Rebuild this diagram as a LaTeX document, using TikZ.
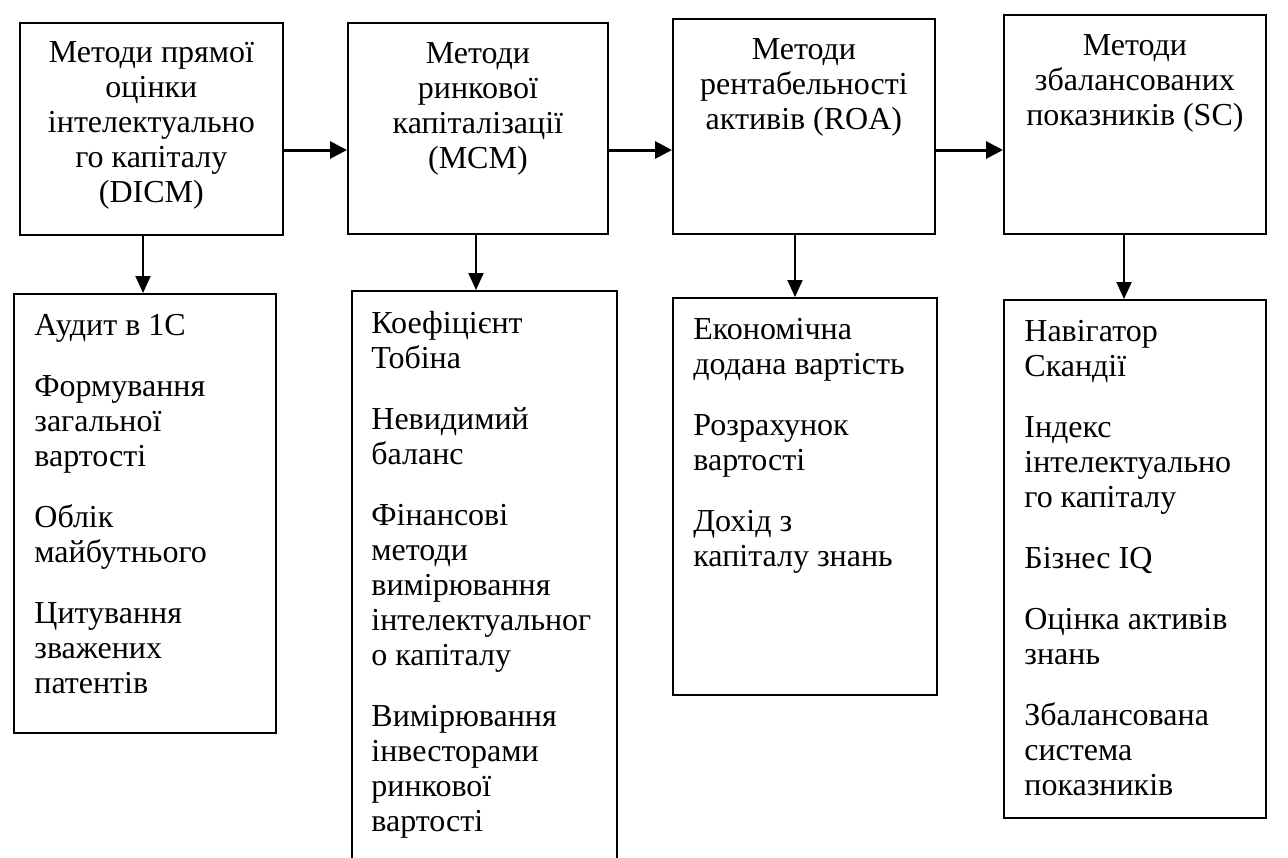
\documentclass[tikz,border=0pt]{standalone}
\usepackage{fontspec}
\setmainfont{Liberation Serif}
\usetikzlibrary{arrows.meta}

\begin{document}
\begin{tikzpicture}[x=0.5pt, y=-0.5pt,
  box/.style={draw, line width=0.9pt, inner sep=0pt, anchor=north west},
  head/.style={anchor=north, align=center, inner sep=0pt, font=\fontsize{16}{17.5}\selectfont},
  list/.style={anchor=north west, align=left, inner sep=0pt, font=\fontsize{16}{17.5}\selectfont},
  harrow/.style={line width=1.5pt, -{Triangle[length=8.5pt,width=8.5pt]}},
  varrow/.style={line width=1pt, -{Triangle[length=8.5pt,width=7.5pt]}}]

  %–– Lienzo ––
  \fill[white, use as bounding box] (0,0) rectangle (1288,857);

  %–– Cajas (nombre/x/y/ancho/alto en px) ––
  \foreach \n/\x/\y/\w/\h in {
    t1/19/22/263/212,
    t2/347/22/260/211,
    t3/672/18/262/215,
    t4/1003/14/262/219,
    b1/13/293/262/439,
    b2/351/290/265/600,
    b3/672/297/264/397,
    b4/1003/299/262/518
  }{
    \node[box, minimum width=\w*0.5pt, minimum height=\h*0.5pt] (\n) at (\x,\y) {};
  }

  %–– Títulos de los métodos ––
  \node[head] (t1txt) at ([yshift=-9.6pt]t1.north)
    {Методи прямої\\оцінки\\інтелектуально\\го капіталу\\(DICM)};
  \node[head] (t2txt) at ([yshift=-10pt]t2.north)
    {Методи\\ринкової\\капіталізації\\(MCM)};
  \node[head] (t3txt) at ([yshift=-10pt]t3.north)
    {Методи\\рентабельності\\активів (ROA)};
  \node[head] (t4txt) at ([yshift=-10pt]t4.north)
    {Методи\\збалансованих\\показників (SC)};

  %–– Listas ––
  \node[list] (b1txt) at ([xshift=10.5pt,yshift=-10.5pt]b1.north west)
    {Аудит в 1С\\[13pt]
     Формування\\загальної\\вартості\\[13pt]
     Облік\\майбутнього\\[13pt]
     Цитування\\зважених\\патентів};
  \node[list] (b2txt) at ([xshift=10pt,yshift=-10.5pt]b2.north west)
    {Коефіцієнт\\Тобіна\\[13pt]
     Невидимий\\баланс\\[13pt]
     Фінансові\\методи\\вимірювання\\інтелектуальног\\о капіталу\\[13pt]
     Вимірювання\\інвесторами\\ринкової\\вартості};
  \node[list] (b3txt) at ([xshift=10.5pt,yshift=-10.5pt]b3.north west)
    {Економічна\\додана вартість\\[13pt]
     Розрахунок\\вартості\\[13pt]
     Дохід з\\капіталу знань};
  \node[list] (b4txt) at ([xshift=10.5pt,yshift=-10.5pt]b4.north west)
    {Навігатор\\Скандії\\[13pt]
     Індекс\\інтелектуально\\го капіталу\\[13pt]
     Бізнес IQ\\[13pt]
     Оцінка активів\\знань\\[13pt]
     Збалансована\\система\\показників};

  %–– Flechas horizontales ––
  \coordinate (axis) at (0,150);
  \draw[harrow] (t1.east |- axis) -- (t2.west |- axis);
  \draw[harrow] (t2.east |- axis) -- (t3.west |- axis);
  \draw[harrow] (t3.east |- axis) -- (t4.west |- axis);

  %–– Flechas verticales ––
  \foreach \i/\x in {1/143, 2/476, 3/795, 4/1124}{
    \draw[varrow] (t\i.south -| \x,0) -- (b\i.north -| \x,0);
  }

\end{tikzpicture}
\end{document}
